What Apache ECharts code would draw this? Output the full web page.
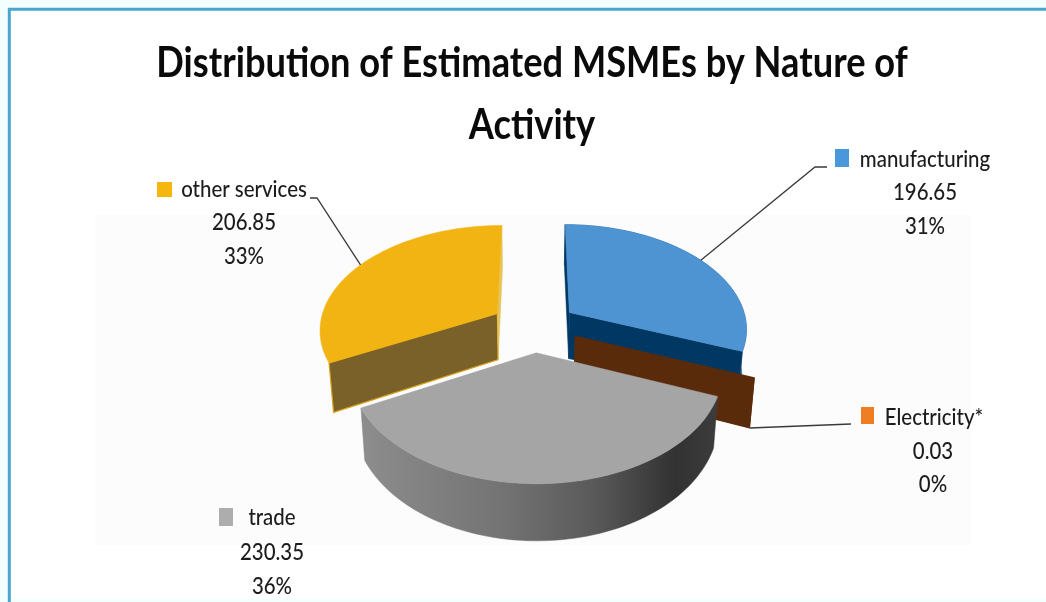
<!DOCTYPE html>
<html><head><meta charset="utf-8">
<style>html,body{margin:0;padding:0;background:#fff}#c{width:1046px;height:602px}</style>
<script src="https://cdn.jsdelivr.net/npm/echarts@6/dist/echarts.min.js"></script>
</head><body><div id="c"></div>
<script>
const categories = ['manufacturing', 'Electricity*', 'trade', 'other services'];
const values = [196.65, 0.03, 230.35, 206.85];
const percents = ['31%', '0%', '36%', '33%'];
const titleText = 'Distribution of Estimated MSMEs by Nature of\nActivity';

const topColors = ['#4e93d2', '#f07c24', '#a5a5a5', '#f2b413'];
const swatchColors = ['#4a98dc', '#ef7d22', '#adadad', '#f5b70e'];
const wallColors = ['#00386380', '#5a2b0b', '#7a7a7a', '#7a6129'];
const rimColors = ['#1f5d94', '#5a2b0b', null, null];
const drawOrder = [3, 0, 1, 2];

const labelFont = 'Lato, "Open Sans", sans-serif';
const pie = {cx: 534, cy: 326.5, R: 178, A: 104, k: 0.142, D: 47, explode: 0.245, shrink: 0.022};
const labelLayout = [
  {swatch: [835, 149, 14, 18], name: [925, 160], value: [925, 193], pct: [925, 227]},
  {swatch: [861, 407, 13, 17], name: [934, 418], value: [933, 452], pct: [933, 485]},
  {swatch: [219, 508, 14, 18], name: [272, 518], value: [272, 553], pct: [272, 587]},
  {swatch: [157, 182, 15, 15], name: [244, 190], value: [244, 223], pct: [244, 257]}
];

const total = values.reduce((a, b) => a + b, 0);
const angles = [];
values.reduce((acc, v) => { angles.push([acc, acc + v / total * 2 * Math.PI]); return acc + v / total * 2 * Math.PI; }, 0);

function proj(X, Z, h) {
  const s = 1 / (1 + pie.k * Z);
  return [pie.cx + pie.R * X * s * (1 - h * pie.shrink), pie.cy - pie.A * Z * s + h * pie.D * s];
}
function offset(i) {
  const m = (angles[i][0] + angles[i][1]) / 2;
  return [Math.sin(m) * pie.explode, Math.cos(m) * pie.explode];
}
function rimPoint(i, t, h) {
  const o = offset(i);
  return proj(o[0] + Math.sin(t), o[1] + Math.cos(t), h);
}
function vertex(i, h) { const o = offset(i); return proj(o[0], o[1], h); }
function arc(i, h) {
  const pts = [], [a, b] = angles[i], n = 72;
  for (let j = 0; j <= n; j++) pts.push(rimPoint(i, a + (b - a) * j / n, h));
  return pts;
}
function poly(points, fill, z2, stroke, lw) {
  return {type: 'polygon', shape: {points}, style: {fill, stroke: stroke || fill, lineWidth: lw || 0.5}, z2, silent: true};
}
function line(points, z2) {
  return {type: 'polyline', shape: {points}, style: {stroke: '#3a3a3a', lineWidth: 1.3, fill: 'none'}, z2, silent: true};
}
function label(text, p) {
  return {type: 'text', x: p[0], y: p[1], z2: 60, silent: true, scaleX: 0.888,
    style: {text, fill: '#1c1c1c', font: '500 23px ' + labelFont, align: 'center', verticalAlign: 'middle'}};
}
const greyWall = {type: 'linear', x: 0, y: 0, x2: 1, y2: 0, colorStops: [
  {offset: 0, color: '#8d8d8d'}, {offset: 0.4, color: '#737373'}, {offset: 0.65, color: '#5a5a5a'},
  {offset: 0.88, color: '#323232'}, {offset: 1, color: '#3c3c3c'}]};

function renderSlice(params, api) {
  const i = api.value(0);
  const z = drawOrder.indexOf(i) * 10;
  const kids = [];
  const top = arc(i, 0), bottom = arc(i, 1);
  const [a, b] = angles[i];
  const rimFill = i === 2 ? greyWall : rimColors[i];
  if (rimFill) kids.push(poly(top.concat(bottom.slice().reverse()), rimFill, z + 1));
  const wall = ['#003863', '#5a2b0b', null, '#7a6129'][i];
  if (wall) {
    const wallStroke = i === 3 ? '#d7a01a' : wall;
    kids.push(poly([vertex(i, 0), rimPoint(i, a, 0), rimPoint(i, a, 1), vertex(i, 1)], wall, z + 2, wallStroke, i === 3 ? 1.2 : 0.5));
    kids.push(poly([vertex(i, 0), rimPoint(i, b, 0), rimPoint(i, b, 1), vertex(i, 1)], i === 3 ? '#e4c55c' : wall, z + 2));
  }
  if (i !== 1) kids.push(poly([vertex(i, 0)].concat(top), topColors[i], z + 3));

  const lay = labelLayout[i];
  const s = lay.swatch;
  kids.push({type: 'rect', shape: {x: s[0], y: s[1], width: s[2], height: s[3]}, style: {fill: swatchColors[i]}, z2: 60, silent: true});
  kids.push(label(categories[i], lay.name), label(String(values[i]), lay.value), label(percents[i], lay.pct));

  const mid = (a + b) / 2;
  if (i === 0) kids.push(line([rimPoint(i, mid, 0), [815, 167], [827, 167]], 55));
  if (i === 3) kids.push(line([rimPoint(i, mid, 0), [317, 198], [310, 198]], 55));
  if (i === 1) kids.push(line([rimPoint(i, mid, 1), [851, 424]], 55));
  return {type: 'group', children: kids};
}

const chart = echarts.init(document.getElementById('c'), null, {renderer: 'canvas'});
chart.setOption({
  animation: false,
  backgroundColor: '#f3feff',
  graphic: [
    {type: 'rect', z: -2, shape: {x: 11, y: 11, width: 1035, height: 588}, style: {fill: '#ffffff'}, silent: true},
    {type: 'rect', z: -1, shape: {x: 95, y: 215, width: 875, height: 330}, style: {fill: '#fcfcfc'}, silent: true},
    {type: 'rect', z: 100, shape: {x: 9.3, y: 9.3, width: 1060, height: 620}, style: {fill: 'none', stroke: '#4aa6cf', lineWidth: 3}, silent: true},
    {type: 'text', z: 101, x: 532, y: 32, scaleX: 0.863, silent: true,
      style: {text: titleText, fill: '#0a0a0a', font: 'bold 42px Lato, sans-serif', lineHeight: 62, align: 'center', verticalAlign: 'top'}}
  ],
  series: [{type: 'custom', coordinateSystem: 'none', renderItem: renderSlice, clip: false,
    data: values.map((v, i) => [i, v])}]
});
</script></body></html>
